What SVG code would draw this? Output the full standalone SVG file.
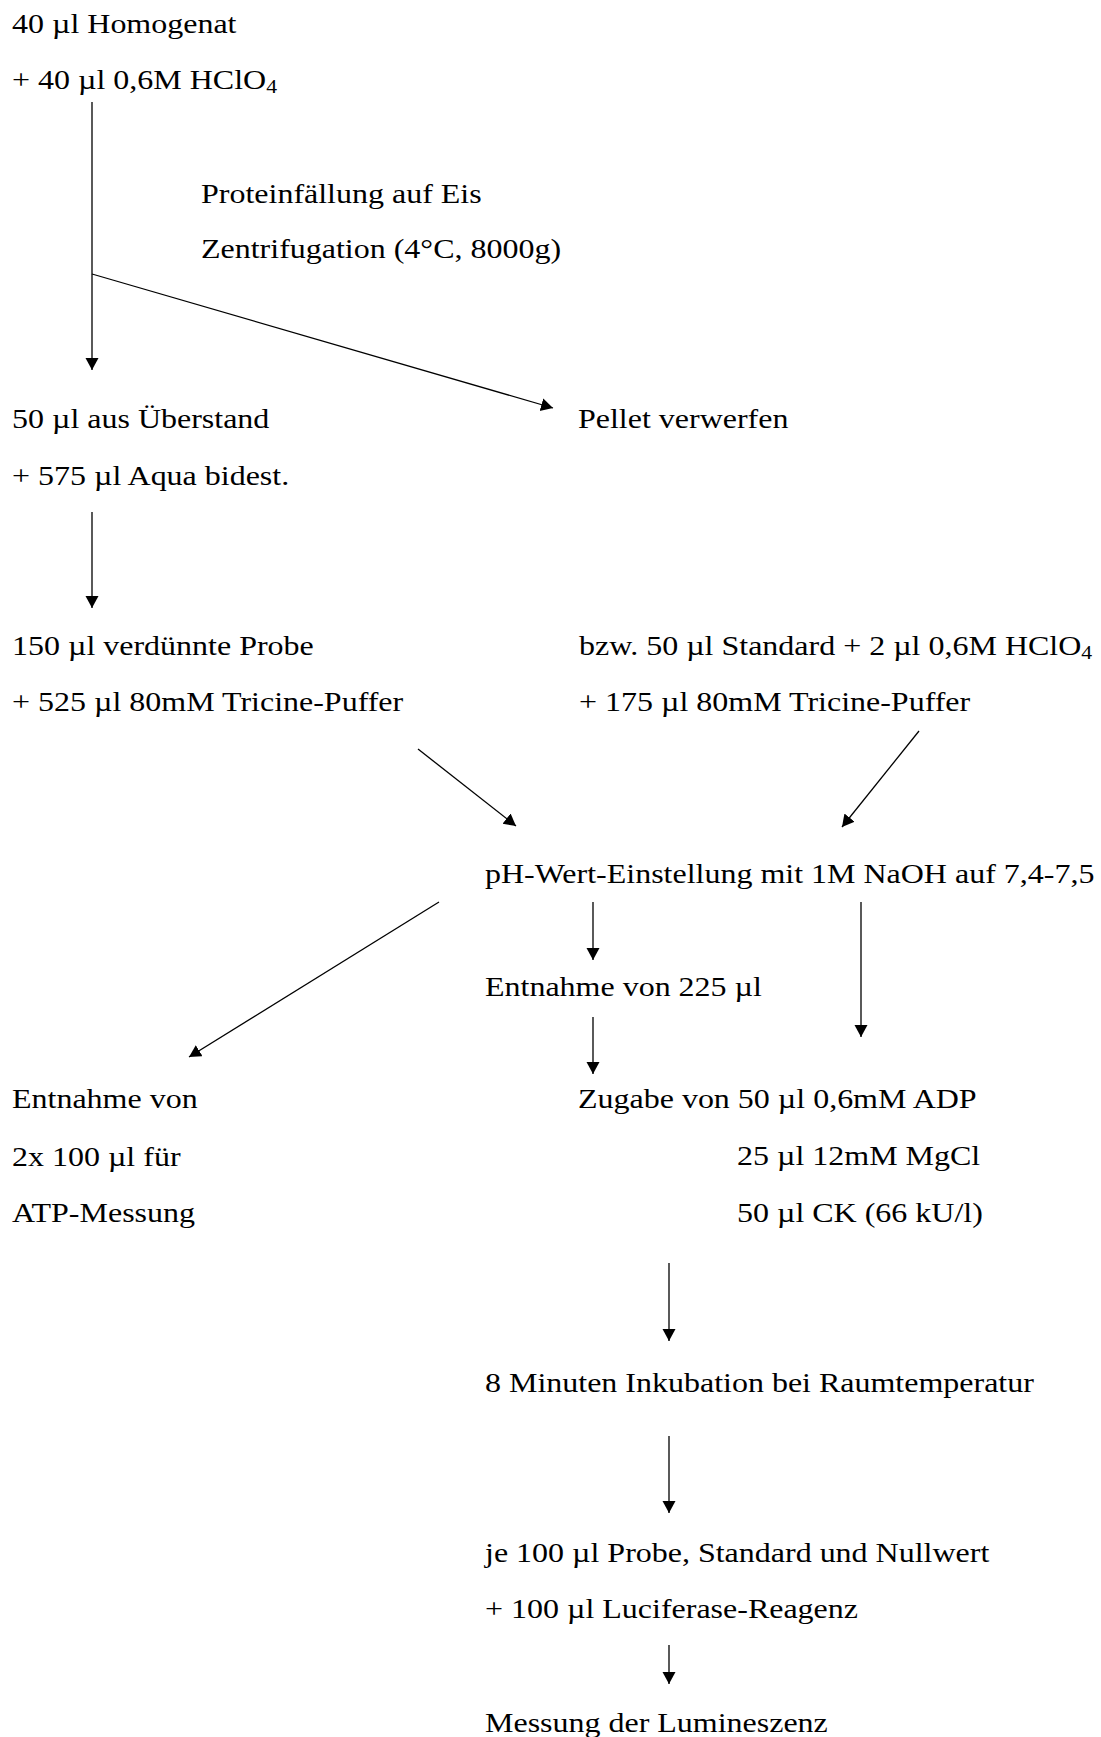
<svg xmlns="http://www.w3.org/2000/svg" width="1101" height="1737" viewBox="0 0 1101 1737">
<style>
.t{font-family:"Liberation Serif","Times New Roman",serif;font-size:28px;fill:#000}
.s{font-size:19px}
.c line{stroke:#000;stroke-width:1.3;fill:none}
</style>
<defs>
<marker id="ah" markerUnits="userSpaceOnUse" markerWidth="14" markerHeight="14" refX="12" refY="6.5" orient="auto">
<path d="M0,0 L12,6.5 L0,13 z" fill="#000"/>
</marker>
</defs>
<rect width="1101" height="1737" fill="#fff"/>
<g id="n1" class="t" transform="translate(12,0) scale(1.143,1)">
<text x="0" y="33">40 µl Homogenat</text>
<text x="0" y="89">+ 40 µl 0,6M HClO<tspan class="s" dy="4">4</tspan></text>
</g>
<g id="n2" class="t" transform="translate(201,0) scale(1.143,1)">
<text x="0" y="203">Proteinfällung auf Eis</text>
<text x="0" y="258">Zentrifugation (4°C, 8000g)</text>
</g>
<g id="n3" class="t" transform="translate(12,0) scale(1.143,1)">
<text x="0" y="428">50 µl aus Überstand</text>
<text x="0" y="485">+ 575 µl Aqua bidest.</text>
</g>
<g id="n4" class="t" transform="translate(578,0) scale(1.143,1)">
<text x="0" y="428">Pellet verwerfen</text>
</g>
<g id="n5" class="t" transform="translate(12,0) scale(1.143,1)">
<text x="0" y="655">150 µl verdünnte Probe</text>
<text x="0" y="711">+ 525 µl 80mM Tricine-Puffer</text>
</g>
<g id="n6" class="t" transform="translate(579,0) scale(1.143,1)">
<text x="0" y="655">bzw. 50 µl Standard + 2 µl 0,6M HClO<tspan class="s" dy="4">4</tspan></text>
<text x="0" y="711">+ 175 µl 80mM Tricine-Puffer</text>
</g>
<g id="n7" class="t" transform="translate(485,0) scale(1.143,1)">
<text x="0" y="883">pH-Wert-Einstellung mit 1M NaOH auf 7,4-7,5</text>
</g>
<g id="n8" class="t" transform="translate(485,0) scale(1.143,1)">
<text x="0" y="996">Entnahme von 225 µl</text>
</g>
<g id="n9" class="t" transform="translate(12,0) scale(1.143,1)">
<text x="0" y="1108">Entnahme von</text>
<text x="0" y="1166">2x 100 µl für</text>
<text x="0" y="1222">ATP-Messung</text>
</g>
<g id="n10" class="t" transform="translate(578,0) scale(1.143,1)">
<text x="0" y="1108">Zugabe von 50 µl 0,6mM ADP</text>
<text x="139.1" y="1165">25 µl 12mM MgCl</text>
<text x="139.1" y="1222">50 µl CK (66 kU/l)</text>
</g>
<g id="n11" class="t" transform="translate(485,0) scale(1.143,1)">
<text x="0" y="1392">8 Minuten Inkubation bei Raumtemperatur</text>
</g>
<g id="n12" class="t" transform="translate(485,0) scale(1.143,1)">
<text x="0" y="1562">je 100 µl Probe, Standard und Nullwert</text>
<text x="0" y="1618">+ 100 µl Luciferase-Reagenz</text>
</g>
<g id="n13" class="t" transform="translate(485,0) scale(1.143,1)">
<text x="0" y="1732">Messung der Lumineszenz</text>
</g>
<g id="connectors" class="c">
<line x1="92" y1="102" x2="92" y2="370" marker-end="url(#ah)"/>
<line x1="92" y1="274" x2="553" y2="408" marker-end="url(#ah)"/>
<line x1="92" y1="512" x2="92" y2="608" marker-end="url(#ah)"/>
<line x1="418" y1="749" x2="516" y2="826" marker-end="url(#ah)"/>
<line x1="919" y1="731" x2="842" y2="827" marker-end="url(#ah)"/>
<line x1="439" y1="902" x2="189" y2="1057" marker-end="url(#ah)"/>
<line x1="593" y1="902" x2="593" y2="960" marker-end="url(#ah)"/>
<line x1="861" y1="902" x2="861" y2="1037" marker-end="url(#ah)"/>
<line x1="593" y1="1017" x2="593" y2="1074" marker-end="url(#ah)"/>
<line x1="669" y1="1263" x2="669" y2="1341" marker-end="url(#ah)"/>
<line x1="669" y1="1436" x2="669" y2="1513" marker-end="url(#ah)"/>
<line x1="669" y1="1645" x2="669" y2="1684" marker-end="url(#ah)"/>
</g>
</svg>
